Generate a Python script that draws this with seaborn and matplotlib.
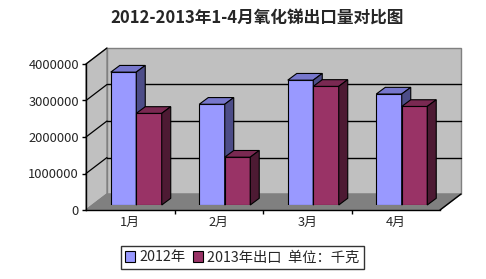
import matplotlib
matplotlib.use("Agg")
import matplotlib.pyplot as plt
from matplotlib.patches import Polygon, Patch
import seaborn as sns
import pandas as pd

months = ["1月", "2月", "3月", "4月"]
series_names = ["2012年", "2013年出口  单位：千克"]
values_2012 = [3640000, 2760000, 3420000, 3040000]
values_2013 = [2510000, 1310000, 3250000, 2700000]
yticks = [0, 1000000, 2000000, 3000000, 4000000]
title = "2012-2013年1-4月氧化锑出口量对比图"

front_colors = ["#9999FF", "#993366"]
top_colors = ["#7777CC", "#7A2952"]
side_colors = ["#4D4D88", "#4D1A33"]

sns.set_style("white")
plt.rcParams["font.family"] = ["Noto Sans CJK SC", "DejaVu Sans"]

W, H = 486, 279
fig = plt.figure(figsize=(W / 100, H / 100), dpi=100)


def px_axes(left, right, bottom, top):
    return [left / W, 1 - bottom / H, (right - left) / W, (bottom - top) / H]


ax = fig.add_axes(px_axes(86, 440, 210, 64))
bx = fig.add_axes(px_axes(92, 446, 205, 59))
for a in (ax, bx):
    a.set_xlim(-0.5, 3.5)
    a.set_ylim(0, 4000000)
    a.patch.set_alpha(0)

px_x = 4 / 354.0          # categories per pixel
px_y = 4000000 / 146.0    # value units per pixel
dx, dy = 21 * px_x, 16 * px_y

# walls and floor
x0, x1 = -0.5, 3.5
ymax = 4000000
back = Polygon([(x0 + dx, dy), (x1 + dx, dy), (x1 + dx, ymax + dy), (x0 + dx, ymax + dy)],
               closed=True, facecolor="#C0C0C0", edgecolor="#808080", lw=1, clip_on=False, zorder=0)
left = Polygon([(x0, 0), (x0, ymax), (x0 + dx, ymax + dy), (x0 + dx, dy)],
               closed=True, facecolor="#C0C0C0", edgecolor="#808080", lw=1, clip_on=False, zorder=0)
floor = Polygon([(x0, 0), (x1, 0), (x1 + dx, dy), (x0 + dx, dy)],
                closed=True, facecolor="#808080", edgecolor="#808080", lw=1, clip_on=False, zorder=0.5)
for p in (back, left, floor):
    ax.add_patch(p)
for v in yticks[1:]:
    if v < ymax:
        ax.plot([x0 + dx, x1 + dx], [v + dy, v + dy], color="black", lw=1, clip_on=False, zorder=1)
    ax.plot([x0, x0 + dx], [v, v + dy], color="black", lw=0.9, clip_on=False, zorder=1)
ax.plot([x1, x1 + dx], [0, dy], color="black", lw=1, clip_on=False, zorder=1)

for s in ["top", "right"]:
    ax.spines[s].set_visible(False)
for s in ["left", "bottom"]:
    ax.spines[s].set_color("black")
    ax.spines[s].set_linewidth(1)
    ax.spines[s].set_zorder(2)

ax.set_yticks(yticks)
ax.set_yticklabels([str(v) for v in yticks], fontsize=9.3)
ax.set_xticks(range(len(months)))
ax.set_xticklabels(months, fontsize=9.3)
ax.set_xticks([0.5, 1.5, 2.5], minor=True)
ax.tick_params(axis="y", which="major", length=3, width=1, color="black", direction="out", pad=2, left=True)
ax.tick_params(axis="x", which="major", length=0, pad=4)
ax.tick_params(axis="x", which="minor", length=3, width=1, color="black", direction="out", bottom=True)
ax.grid(False)

# bars
df = pd.DataFrame({
    "month": months * 2,
    "series": [series_names[0]] * 4 + [series_names[1]] * 4,
    "value": values_2012 + values_2013,
})
sns.barplot(data=df, x="month", y="value", hue="series", palette=front_colors,
            width=0.576, gap=0, saturation=1, edgecolor="black", linewidth=0.8,
            legend=False, ax=bx)
bx.set_xlim(-0.5, 3.5)
bx.set_ylim(0, 4000000)
bx.axis("off")

bdx, bdy = 9 * px_x, 6.7 * px_y
bars = [p for p in bx.patches if p.get_height() > 0]
n = len(months)
for i, p in enumerate(bars):
    s = i // n
    p.set_zorder(2 + 2 * s)
    x, w, h = p.get_x(), p.get_width(), p.get_height()
    top = Polygon([(x, h), (x + w, h), (x + w + bdx, h + bdy), (x + bdx, h + bdy)], closed=True,
                  facecolor=top_colors[s], edgecolor="black", lw=0.8, zorder=3 + 2 * s, clip_on=False)
    side = Polygon([(x + w, 0), (x + w + bdx, bdy), (x + w + bdx, h + bdy), (x + w, h)], closed=True,
                   facecolor=side_colors[s], edgecolor="black", lw=0.8, zorder=3 + 2 * s, clip_on=False)
    bx.add_patch(top)
    bx.add_patch(side)

fig.text(257.5 / W, 1 - 18 / H, title, ha="center", va="center", fontsize=12, fontweight="bold")

handles = [Patch(facecolor=front_colors[i], edgecolor="black", lw=0.8) for i in range(2)]
leg = fig.legend(handles, series_names, loc="center", bbox_to_anchor=(242.5 / W, 1 - 257.5 / H),
                 ncol=2, frameon=True, fancybox=False, fontsize=10.3, handlelength=0.7, handleheight=0.7,
                 handletextpad=0.3, columnspacing=0.5, borderpad=0.3, borderaxespad=0)
leg.get_frame().set_edgecolor("black")
leg.get_frame().set_linewidth(1)

fig.savefig("out.png", dpi=100)
